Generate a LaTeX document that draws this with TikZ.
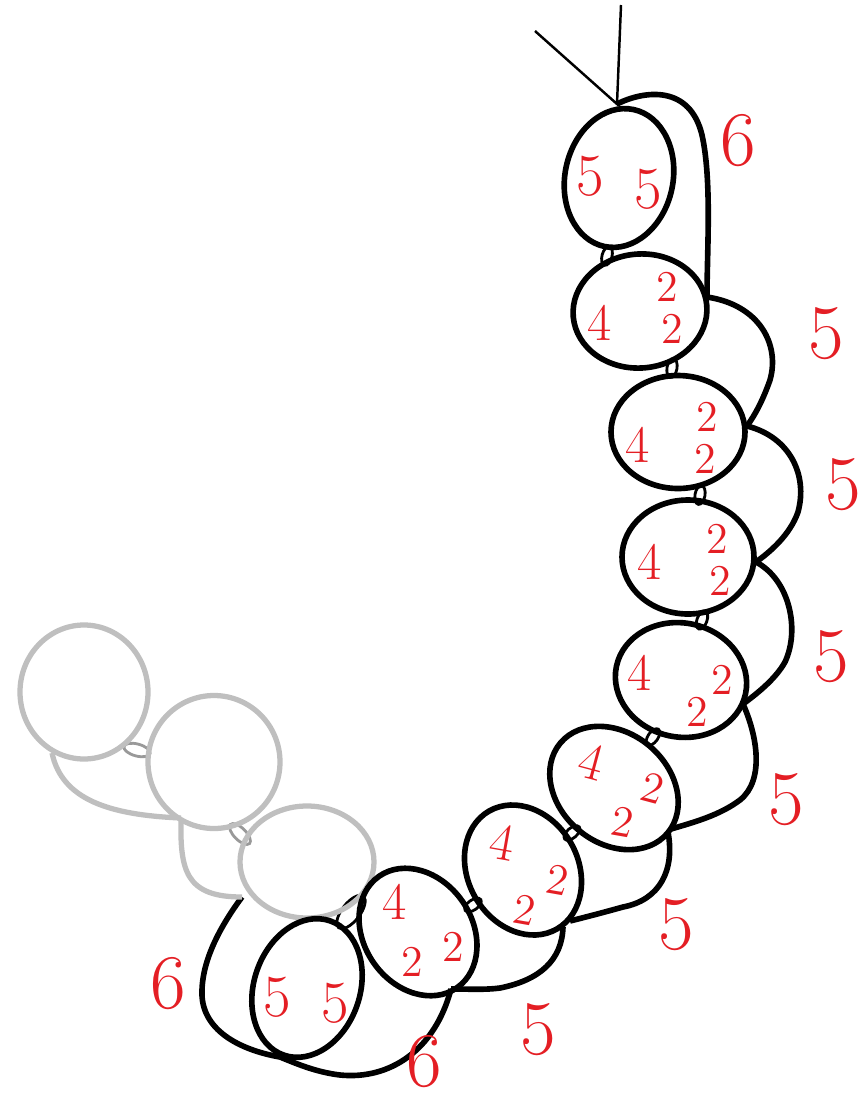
\documentclass[tikz,border=0pt]{standalone}
\usetikzlibrary{shapes.geometric}
\definecolor{numred}{RGB}{228,30,36}
\definecolor{ghostgray}{RGB}{191,191,191}

\begin{document}
\begin{tikzpicture}[
    x=0.1mm, y=-0.1mm,
    bead/.style={draw, ellipse, line width=1.6pt, inner sep=0pt},
    ghost/.style={bead, draw=ghostgray, line width=1.5pt},
    link/.style={draw, ellipse, fill=white, line width=0.8pt, inner sep=0pt, minimum width=1mm, minimum height=1.9mm},
    ghostlink/.style={link, draw=ghostgray!80!black, minimum width=2.7mm, minimum height=1.2mm},
    strand/.style={line width=1.6pt},
    ghoststrand/.style={line width=1.5pt, ghostgray},
    big/.style={text=numred, font=\fontsize{22}{22}\selectfont, inner sep=0pt},
    mid/.style={text=numred, font=\fontsize{15}{15}\selectfont, inner sep=0pt},
    pair/.style={text=numred, font=\fontsize{17}{17}\selectfont, inner sep=0pt},
    small/.style={text=numred, font=\fontsize{12.5}{12.5}\selectfont, inner sep=0pt}
]
\useasboundingbox (0,0) rectangle (861,1101);

% links between the beads
\node[link, rotate=-15] (l12) at (607,256) {};
\node[link, rotate=-10] (l23) at (672,368) {};
\node[link, rotate=-10] (l34) at (700,495) {};
\node[link, rotate=-20] (l45) at (702,620) {};
\node[link, rotate=-35] (l56) at (653,737) {};
\node[link, rotate=-50] (l67) at (572,833) {};
\node[link, rotate=-55] (l78) at (473,905) {};
\node[link, rotate=-38, minimum width=1.8mm, minimum height=4mm] (l89) at (351,912) {};
\node[ghostlink, rotate=-15] (gl12) at (137,750) {};
\node[ghostlink, rotate=-45] (gl23) at (240,834) {};

% grey beads
\node[ghost, minimum width=12.8mm, minimum height=13.4mm] (g1) at (84,692) {};
\node[ghost, minimum width=13.2mm, minimum height=13.3mm] (g2) at (214,762) {};
\node[ghost, minimum width=13.4mm, minimum height=11.2mm] (g3) at (307,862) {};

% black beads
\node[bead, minimum width=10.8mm, minimum height=14mm, rotate=-12] (b1) at (619,178) {};
\node[bead, minimum width=13.4mm, minimum height=11.4mm, rotate=5] (b2) at (640,311) {};
\node[bead, minimum width=13.4mm, minimum height=11.3mm] (b3) at (678,432) {};
\node[bead, minimum width=13.2mm, minimum height=11.4mm] (b4) at (688,557) {};
\node[bead, minimum width=13.2mm, minimum height=11.4mm, rotate=-12] (b5) at (681,680) {};
\node[bead, minimum width=14mm, minimum height=11mm, rotate=-40] (b6) at (614,788) {};
\node[bead, minimum width=13.6mm, minimum height=11mm, rotate=-60] (b7) at (523,870) {};
\node[bead, minimum width=13.6mm, minimum height=10.8mm, rotate=-55] (b8) at (418,932) {};
\node[bead, minimum width=10.6mm, minimum height=14.2mm, rotate=-19] (b9) at (307,988) {};

% strand ends
\coordinate (top) at (617,104);
\coordinate (t1) at (535,31);
\coordinate (t2) at (621,5);
\coordinate (s2) at (707,297);
\coordinate (s3) at (747,426);
\coordinate (s4) at (756,562);
\coordinate (s5) at (743,704);
\coordinate (s6) at (671,829);
\coordinate (s7) at (570,921);
\coordinate (s7b) at (563,927);
\coordinate (s8) at (451,989);
\coordinate (s9) at (280,1057);
\coordinate (sg) at (242,897);
\coordinate (g1e) at (52,753);
\coordinate (g2e) at (181,818);

% threads at the top
\draw[line width=0.7pt] (t1) -- (top) -- (t2);

% black strands
\draw[strand] (top) .. controls (645,90) and (690,85) .. (702,135)
    .. controls (712,180) and (707,250) .. (s2);
\draw[strand] (s2) .. controls (760,305) and (780,345) .. (770,380)
    .. controls (763,400) and (755,415) .. (s3);
\draw[strand] (s3) .. controls (790,437) and (808,475) .. (798,512)
    .. controls (790,535) and (770,552) .. (s4);
\draw[strand] (s4) .. controls (790,580) and (800,630) .. (785,662)
    .. controls (775,680) and (755,695) .. (s5);
\draw[strand] (s5) .. controls (757,735) and (765,780) .. (740,800)
    .. controls (720,815) and (695,822) .. (s6);
\draw[strand] (668,832) .. controls (675,870) and (660,900) .. (623,907)
    .. controls (605,912) and (590,916) .. (s7);
\draw[strand] (s7b) .. controls (562,960) and (540,980) .. (500,988)
    .. controls (485,990) and (470,989) .. (s8);
\draw[strand] (s8) .. controls (435,1050) and (390,1080) .. (340,1075)
    .. controls (315,1072) and (295,1063) .. (s9);
\draw[strand] (s9) .. controls (240,1050) and (200,1030) .. (202,990)
    .. controls (203,955) and (225,920) .. (sg);

% grey strands
\draw[ghoststrand] (g1e) .. controls (62,800) and (110,815) .. (g2e);
\draw[ghoststrand] (g2e) .. controls (180,870) and (185,897) .. (sg);

% counts inside the beads
\node[pair] (n1a) at (590,176) {5};
\node[pair] (n1b) at (648,189) {5};
\node[mid] (n2a) at (600,323) {4};
\node[small] (n2b) at (667,287) {2};
\node[small] (n2c) at (672,329) {2};
\node[mid] (n3a) at (638,445) {4};
\node[small] (n3b) at (707,417) {2};
\node[small] (n3c) at (705,459) {2};
\node[mid] (n4a) at (650,562) {4};
\node[small] (n4b) at (717,539) {2};
\node[small] (n4c) at (720,581) {2};
\node[mid] (n5a) at (640,673) {4};
\node[small] (n5b) at (722,680) {2};
\node[small] (n5c) at (697,712) {2};
\node[mid, rotate=-15] (n6a) at (592,762) {4};
\node[small, rotate=-15] (n6b) at (653,788) {2};
\node[small, rotate=-10] (n6c) at (623,822) {2};
\node[mid, rotate=-10] (n7a) at (502,842) {4};
\node[small, rotate=-10] (n7b) at (525,910) {2};
\node[small, rotate=-10] (n7c) at (558,880) {2};
\node[mid] (n8a) at (395,902) {4};
\node[small] (n8b) at (412,962) {2};
\node[small] (n8c) at (453,947) {2};
\node[pair] (n9a) at (277,997) {5};
\node[pair] (n9b) at (335,1003) {5};

% counts beside the strands
\node[big] (c1) at (738,141) {6};
\node[big] (c2) at (826,334) {5};
\node[big] (c3) at (843,485) {5};
\node[big] (c4) at (831,657) {5};
\node[big] (c5) at (786,800) {5};
\node[big] (c6) at (676,925) {5};
\node[big] (c7) at (538,1030) {5};
\node[big] (c8) at (424,1062) {6};
\node[big] (c9) at (168,984) {6};
\end{tikzpicture}
\end{document}
